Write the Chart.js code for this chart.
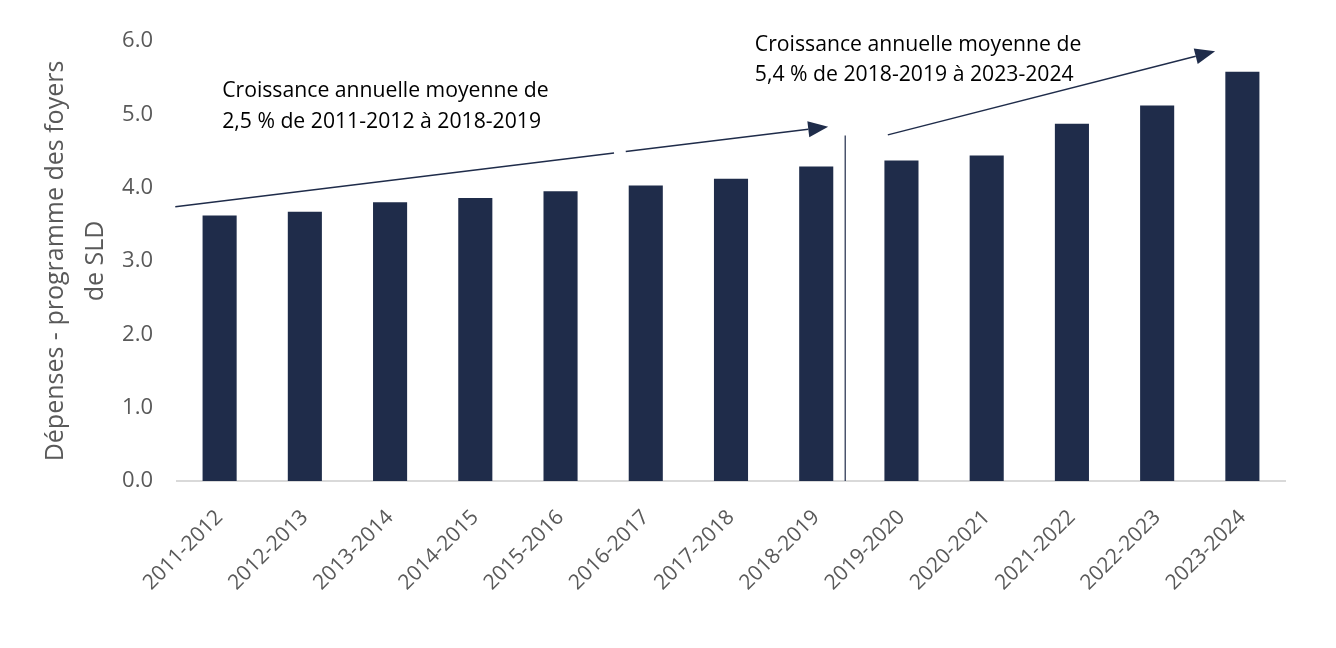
<!DOCTYPE html>
<html>
<head>
<meta charset="utf-8">
<script src="https://cdn.jsdelivr.net/npm/chart.js@4.4.1/dist/chart.umd.min.js"></script>
<style>
  html, body { margin: 0; padding: 0; background: #fff; }
  #wrap { width: 1336px; height: 648px; }
</style>
</head>
<body>
<div id="wrap"><canvas id="myChart"></canvas></div>
<script>
// Données du graphique
const annees = ['2011-2012', '2012-2013', '2013-2014', '2014-2015', '2015-2016', '2016-2017',
    '2017-2018', '2018-2019', '2019-2020', '2020-2021', '2021-2022', '2022-2023', '2023-2024'];
const depenses = [3.62, 3.67, 3.80, 3.86, 3.95, 4.03, 4.12, 4.29, 4.37, 4.44, 4.87, 5.12, 5.58];
const ticksY = [0, 1, 2, 3, 4, 5, 6];

const texte1 = ['Croissance annuelle moyenne de', '2,5 % de 2011-2012 à 2018-2019'];
const texte2 = ['Croissance annuelle moyenne de', '5,4 % de 2018-2019 à 2023-2024'];

const couleurBarre = '#1f2c4a';
const couleurTexte = '#595959';

// Flèches et notes, placées en unités d'axes (index de catégorie, valeur)
const notes = {
    id: 'notes',
    afterDatasetsDraw(chart) {
        const { ctx, scales: { x, y } } = chart;
        const px = i => x.getPixelForValue(0) + i * (x.getPixelForValue(1) - x.getPixelForValue(0));
        const py = v => y.getPixelForValue(v);

        function fleche(x0, y0, x1, y1) {
            const ang = Math.atan2(y1 - y0, x1 - x0);
            const lg = 20, la = 8;
            const bx = x1 - lg * Math.cos(ang), by = y1 - lg * Math.sin(ang);
            ctx.beginPath();
            ctx.moveTo(x0, y0);
            ctx.lineTo(bx, by);
            ctx.stroke();
            ctx.beginPath();
            ctx.moveTo(x1, y1);
            ctx.lineTo(bx + la * Math.sin(ang), by - la * Math.cos(ang));
            ctx.lineTo(bx - la * Math.sin(ang), by + la * Math.cos(ang));
            ctx.closePath();
            ctx.fill();
        }

        ctx.save();
        ctx.strokeStyle = couleurBarre;
        ctx.fillStyle = couleurBarre;
        ctx.lineWidth = 1.5;

        // flèche 1 (avec une petite coupure)
        const ax0 = px(-0.52), ay0 = py(3.74), ax1 = px(7.14), ay1 = py(4.83);
        const t1 = 0.672, t2 = 0.69;
        ctx.beginPath();
        ctx.moveTo(ax0, ay0);
        ctx.lineTo(ax0 + (ax1 - ax0) * t1, ay0 + (ay1 - ay0) * t1);
        ctx.stroke();
        fleche(ax0 + (ax1 - ax0) * t2, ay0 + (ay1 - ay0) * t2, ax1, ay1);

        // ligne verticale
        ctx.lineWidth = 1.2;
        ctx.beginPath();
        ctx.moveTo(px(7.34), py(0));
        ctx.lineTo(px(7.34), py(4.71));
        ctx.stroke();

        // flèche 2
        ctx.lineWidth = 1.5;
        fleche(px(7.84), py(4.72), px(11.68), py(5.86));

        // textes
        ctx.fillStyle = '#000';
        ctx.textBaseline = 'middle';
        ctx.textAlign = 'left';
        const ajuste = (txt, larg) => {
            ctx.font = '20px "Open Sans", sans-serif';
            const taille = 20 * larg / ctx.measureText(txt).width;
            ctx.font = taille.toFixed(1) + 'px "Open Sans", sans-serif';
        };
        ajuste(texte1[0], 327);
        ctx.fillText(texte1[0], px(0.03), py(5.32));
        ctx.fillText(texte1[1], px(0.03), py(4.90));
        ctx.fillText(texte2[0], px(6.28), py(5.95));
        ctx.fillText(texte2[1], px(6.28), py(5.54));
        ctx.restore();
    }
};

const ctx = document.getElementById('myChart').getContext('2d');
const myChart = new Chart(ctx, {
    type: 'bar',
    data: {
        labels: annees,
        datasets: [{
            label: 'Dépenses',
            data: depenses,
            backgroundColor: couleurBarre,
            categoryPercentage: 1,
            barPercentage: 0.4
        }]
    },
    options: {
        responsive: true,
        maintainAspectRatio: false,
        animation: false,
        layout: { padding: { top: 41, right: 51, left: 36, bottom: 0 } },
        plugins: {
            legend: { display: false },
            tooltip: { enabled: false }
        },
        scales: {
            x: {
                grid: { display: false, drawTicks: false },
                border: { display: true, color: '#d9d9d9', width: 2 },
                ticks: {
                    color: couleurTexte,
                    font: { family: '"Open Sans", sans-serif', size: 21 },
                    maxRotation: 45,
                    minRotation: 45,
                    padding: 24
                },
                afterFit(scale) { scale.height = 167; }
            },
            y: {
                min: 0,
                max: 6,
                afterBuildTicks(scale) { scale.ticks = ticksY.map(v => ({ value: v })); },
                grid: { display: false, drawTicks: false },
                border: { display: false },
                ticks: {
                    color: couleurTexte,
                    font: { family: '"Open Sans", sans-serif', size: 22 },
                    padding: 24,
                    callback: v => v.toFixed(1)
                },
                title: {
                    display: true,
                    text: ['Dépenses - programme des foyers', 'de SLD'],
                    color: couleurTexte,
                    font: { family: '"Open Sans", sans-serif', size: 25, lineHeight: 1.6 },
                    padding: { top: 0, bottom: 0 }
                },
                afterFit(scale) { scale.width = 141; }
            }
        }
    },
    plugins: [notes]
});
</script>
</body>
</html>
